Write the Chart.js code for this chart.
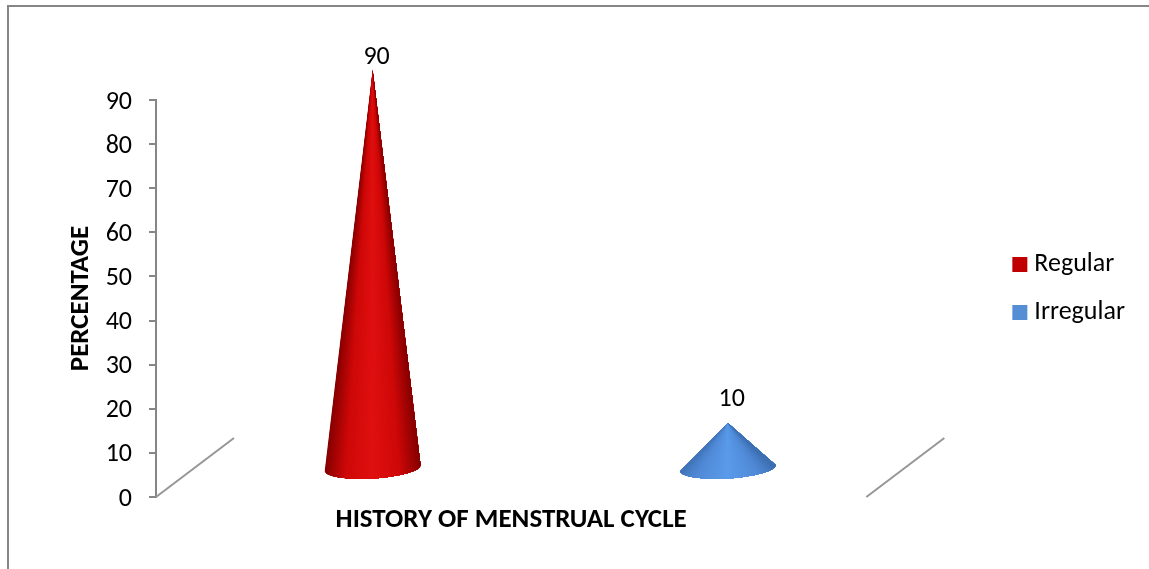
<!DOCTYPE html>
<html lang="en">
<head>
  <meta charset="UTF-8" />
  <title>History of Menstrual Cycle</title>
  <script src="https://cdn.jsdelivr.net/npm/chart.js"></script>
  <style>
    html, body { margin: 0; padding: 0; background: #ffffff; overflow: hidden; }
    .frame {
      position: absolute;
      left: 7px; top: 5px; right: 0; bottom: 0;
      border-left: 2px solid #868686;
      border-top: 2px solid #868686;
    }
    canvas { position: absolute; left: 0; top: 0; }
  </style>
</head>
<body>
  <div class="frame"></div>
  <canvas id="coneChart" width="1149" height="569"></canvas>

  <script>
    const categories = ['Regular', 'Irregular'];
    const percentages = [90, 10];
    const tickStep = 10;
    const tickMax = 90;
    const xTitle = 'HISTORY OF MENSTRUAL CYCLE';
    const yTitle = 'PERCENTAGE';
    const legendColors = ['#c00000', '#558ed5'];
    // edge, mid, centre shades for each cone
    const coneShades = [
      [[132, 0, 0], [206, 8, 8], [224, 16, 16]],
      [[60, 110, 176], [80, 138, 214], [90, 154, 234]]
    ];

    const fontName = 'Carlito, Lato, sans-serif';
    const depthX = 39;
    const depthY = 30;
    const labelGaps = [13, 23];

    function mix(a, b, t) {
      return 'rgb(' + a.map((v, i) => Math.round(v + (b[i] - v) * t)).join(',') + ')';
    }

    function drawCone(ctx, tipX, tipY, baseY, shades) {
      const rx = 48, ry = 10.5, rot = -3.5 * Math.PI / 180;
      const cy = baseY + 2;
      ctx.save();
      ctx.beginPath();
      ctx.moveTo(tipX, tipY);
      ctx.lineTo(tipX - rx * Math.cos(rot), cy - rx * Math.sin(rot));
      ctx.ellipse(tipX, cy, rx, ry, rot, Math.PI, 0, true);
      ctx.closePath();
      ctx.clip();

      // rays from the tip so the shading narrows towards it, each one painted
      // over the last so no seams show
      const n = 60;
      const stretch = (cy + 30 - tipY) / (cy - tipY);
      const far = tipX + rx * 2 + rx * stretch;
      for (let i = 0; i < n; i++) {
        const x0 = tipX + (-rx + (2 * rx * i) / n) * stretch;
        const d = Math.abs((i + 0.5) / n - 0.5) * 2;
        ctx.fillStyle = d > 0.55
          ? mix(shades[1], shades[0], (d - 0.55) / 0.45)
          : mix(shades[2], shades[1], d / 0.55);
        ctx.beginPath();
        ctx.moveTo(tipX, tipY);
        ctx.lineTo(x0, cy + 30);
        ctx.lineTo(far, cy + 30);
        ctx.closePath();
        ctx.fill();
      }
      ctx.restore();
    }

    const conePlugin = {
      id: 'cones',
      afterDatasetsDraw(chart) {
        const ctx = chart.ctx;
        const area = chart.chartArea;
        const bars = chart.getDatasetMeta(0).data;

        // floor edges of the 3D box
        ctx.save();
        ctx.strokeStyle = '#969696';
        ctx.lineWidth = 2;
        [area.left, area.right].forEach(x => {
          ctx.beginPath();
          ctx.moveTo(x, area.bottom);
          ctx.lineTo(x + 78, area.bottom - 59);
          ctx.stroke();
        });
        ctx.restore();

        bars.forEach((bar, i) => {
          const tipX = bar.x + depthX;
          const tipY = bar.y - depthY;
          drawCone(ctx, tipX, tipY, bar.base - depthY, coneShades[i]);

          ctx.save();
          ctx.fillStyle = '#000000';
          ctx.font = '26px ' + fontName;
          ctx.textAlign = 'center';
          ctx.textBaseline = 'middle';
          ctx.fillText(String(percentages[i]), tipX + 4, tipY - labelGaps[i]);
          ctx.restore();
        });
      }
    };

    new Chart(document.getElementById('coneChart'), {
      type: 'bar',
      plugins: [conePlugin],
      data: {
        labels: categories,
        datasets: [{
          data: percentages,
          backgroundColor: 'rgba(0,0,0,0)',
          borderWidth: 0
        }]
      },
      options: {
        responsive: false,
        animation: false,
        layout: { padding: { left: 65, top: 8, right: 14, bottom: 0 } },
        plugins: {
          tooltip: { enabled: false },
          legend: {
            position: 'right',
            labels: {
              color: '#000000',
              font: { family: fontName, size: 26 },
              // small box with a thick stroke, keeps the text close to the swatch
              boxWidth: 3,
              boxHeight: 3,
              padding: 22,
              generateLabels: () => categories.map((name, i) => ({
                text: name,
                fillStyle: legendColors[i],
                strokeStyle: legendColors[i],
                lineWidth: 12,
                index: i
              }))
            }
          }
        },
        scales: {
          x: {
            grid: { display: false },
            border: { display: false },
            ticks: { display: false },
            title: {
              display: true,
              text: xTitle,
              color: '#000000',
              font: { family: fontName, size: 27, weight: 'bold' },
              padding: { top: 0, bottom: 33 }
            },
            afterFit: s => { s.height = 72; }
          },
          y: {
            min: 0,
            max: tickMax,
            ticks: {
              stepSize: tickStep,
              color: '#000000',
              font: { family: fontName, size: 26 },
              padding: 17,
              labelOffset: 2
            },
            grid: { drawOnChartArea: false, color: '#868686', tickLength: 7, lineWidth: 2 },
            border: { color: '#868686', width: 2 },
            title: {
              display: true,
              text: yTitle,
              color: '#000000',
              font: { family: fontName, size: 27, weight: 'bold' },
              padding: 0
            },
            afterFit: s => { s.width = 91; }
          },
          // empty axes that only reserve the room around the plot
          topGap: {
            axis: 'x',
            type: 'linear',
            position: 'top',
            grid: { display: false },
            border: { display: false },
            ticks: { display: false },
            afterFit: s => { s.height = 92; }
          },
          rightGap: {
            axis: 'y',
            type: 'linear',
            position: 'right',
            grid: { display: false },
            border: { display: false },
            ticks: { display: false },
            afterFit: s => { s.width = 130; }
          }
        }
      }
    });
  </script>
</body>
</html>
